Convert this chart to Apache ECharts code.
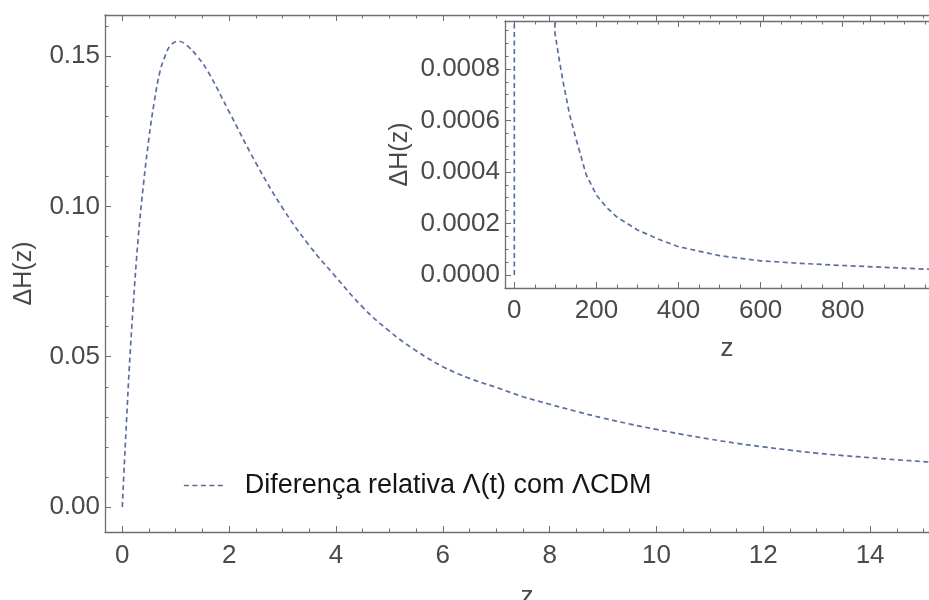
<!DOCTYPE html>
<html><head><meta charset="utf-8">
<script src="https://cdn.jsdelivr.net/npm/echarts@6/dist/echarts.min.js"></script>
<style>html,body{margin:0;padding:0;background:#fff}#c{width:929px;height:600px}</style>
</head><body><div id="c"></div>
<script>
// ---- data ----
const zMain = [0, 0.04, 0.08, 0.13, 0.2, 0.3, 0.4, 0.5, 0.6, 0.7, 0.8, 0.9, 1.05, 1.2, 1.4, 1.6, 2.0, 2.5, 3.0, 3.5, 4.0, 4.5, 5.0, 5.5, 6.0, 6.5, 7.0, 7.5, 8.0, 8.5, 9.0, 9.5, 10.0, 10.5, 11.0, 11.5, 12.0, 12.5, 13.0, 13.5, 14.0, 14.5, 15.0, 15.14];
const dhMain = [0, 0.015, 0.029, 0.046, 0.066, 0.09, 0.108, 0.123, 0.135, 0.1445, 0.150, 0.1535, 0.155, 0.1537, 0.150, 0.145, 0.1315, 0.1145, 0.0995, 0.087, 0.0765, 0.0665, 0.0585, 0.052, 0.0467, 0.0428, 0.0398, 0.0367, 0.0342, 0.0318, 0.0296, 0.0276, 0.0258, 0.0241, 0.0226, 0.0212, 0.0200, 0.0189, 0.0179, 0.0171, 0.0164, 0.0157, 0.0151, 0.0149];
const zTail = [99, 110, 120, 135, 150, 175, 200, 225, 250, 300, 350, 400, 500, 600, 700, 800, 900, 1000, 1015];
const dhTail = [0.00094, 0.00083, 0.00074, 0.00062, 0.00053, 0.00039, 0.00031, 0.000262, 0.000225, 0.000175, 0.00014, 0.00011, 0.000075, 0.000055, 0.000045, 0.000037, 0.00003, 0.000023, 0.000022];
const mainXTicks = [0, 2, 4, 6, 8, 10, 12, 14];
const mainYTicks = [0, 0.05, 0.10, 0.15];
const insetXTicks = [0, 200, 400, 600, 800];
const insetYTicks = [0, 0.0002, 0.0004, 0.0006, 0.0008];
const legendLabel = 'Diferença relativa Λ(t) com ΛCDM';
const yName = 'ΔH(z)';
const xName = 'z';

// ---- styles ----
const FONT = 'Liberation Sans, Arial, Helvetica, sans-serif';
const AX = '#6e6e6e';
const LBL = '#4a4a4a';
const LINE = '#5b6ea3';

function minors(lo, hi, step, majors) {
  const out = [];
  for (let v = lo; v <= hi + 1e-12; v += step) {
    const r = Math.round(v / step) * step;
    if (!majors.some(m => Math.abs(m - r) < step / 10)) out.push(+r.toPrecision(10));
  }
  return out;
}

const mainXR = [-0.324, 15.14], mainYR = [-0.00832, 0.1637];
const insXR = [-22.7, 1015], insYR = [-0.0000504, 0.000986];

function xAx(grid, range, pos, major, minor, opts) {
  const base = {
    type: 'value', gridIndex: grid, min: range[0], max: range[1], position: pos,
    splitLine: { show: false }
  };
  const a = Object.assign({}, base, {
    axisLine: { show: true, onZero: false, lineStyle: { color: AX, width: 1.3 } },
    axisTick: { show: true, inside: true, length: 6, customValues: major, lineStyle: { color: AX, width: 1 } },
    axisLabel: Object.assign({ show: false }, opts.label || {})
  }, opts.extra || {});
  const b = Object.assign({}, base, {
    axisLine: { show: false, onZero: false },
    axisTick: { show: true, inside: true, length: 3.5, customValues: minor, lineStyle: { color: AX, width: 1 } },
    axisLabel: { show: false }
  });
  return [a, b];
}

const lblX = (vals, margin) => ({ show: true, customValues: vals, margin: margin, fontSize: 26, fontFamily: FONT, color: LBL,
  formatter: v => String(Math.round(v)) });
const lblY = (vals, dec) => ({ show: true, customValues: vals, margin: 5, fontSize: 26, fontFamily: FONT, color: LBL,
  formatter: v => Number(v).toFixed(dec) });

const xAxes = [
  ...xAx(0, mainXR, 'bottom', mainXTicks, minors(0, 15, 0.5, mainXTicks), {
    label: lblX(mainXTicks, 11),
    extra: { name: xName, nameLocation: 'middle', nameGap: 52, nameTextStyle: { fontSize: 26, fontFamily: FONT, color: LBL, padding: [0, 0, 0, 18] } }
  }),
  ...xAx(0, mainXR, 'top', mainXTicks, minors(0, 15, 0.5, mainXTicks), {}),
  ...xAx(1, insXR, 'bottom', insetXTicks, minors(0, 1000, 50, insetXTicks), {
    label: lblX(insetXTicks, 10),
    extra: { name: xName, nameLocation: 'middle', nameGap: 48, nameTextStyle: { fontSize: 26, fontFamily: FONT, color: LBL, padding: [0, 0, 0, 18] } }
  }),
  ...xAx(1, insXR, 'top', insetXTicks, minors(0, 1000, 50, insetXTicks), {})
];

function yAx(grid, range, major, minor, label, extra) {
  const base = { type: 'value', gridIndex: grid, min: range[0], max: range[1], position: 'left', splitLine: { show: false } };
  return [
    Object.assign({}, base, {
      axisLine: { show: true, onZero: false, lineStyle: { color: AX, width: 1.3 } },
      axisTick: { show: true, inside: true, length: 6, customValues: major, lineStyle: { color: AX, width: 1 } },
      axisLabel: label
    }, extra),
    Object.assign({}, base, {
      axisLine: { show: false, onZero: false },
      axisTick: { show: true, inside: true, length: 3.5, customValues: minor, lineStyle: { color: AX, width: 1 } },
      axisLabel: { show: false }
    })
  ];
}

const yAxes = [
  ...yAx(0, mainYR, mainYTicks, minors(0, 0.16, 0.01, mainYTicks), lblY(mainYTicks, 2),
    { name: yName, nameLocation: 'middle', nameGap: 68, nameRotate: 90, nameTextStyle: { fontSize: 25, fontFamily: FONT, color: LBL } }),
  ...yAx(1, insYR, insetYTicks, minors(0, 0.00095, 0.00005, insetYTicks), lblY(insetYTicks, 4),
    { name: yName, nameLocation: 'middle', nameGap: 92, nameRotate: 90, nameTextStyle: { fontSize: 25, fontFamily: FONT, color: LBL } })
];

const mainData = zMain.map((z, i) => [z, dhMain[i]]);
const insetData = mainData.concat(zTail.map((z, i) => [z, dhTail[i]]));

const chart = echarts.init(document.getElementById('c'), null, { renderer: 'canvas' });
chart.setOption({
  animation: false,
  backgroundColor: '#fff',
  textStyle: { fontFamily: FONT },
  grid: [
    { left: 105, top: 15, right: -2, bottom: 68, containLabel: false, outerBoundsMode: 'none' },
    { left: 505, top: 21, right: -2, height: 267, containLabel: false, outerBoundsMode: 'none',
      show: true, backgroundColor: '#fff', borderWidth: 0, z: 3 }
  ],
  legend: {
    left: 183, top: 472, padding: 0, itemWidth: 42, itemHeight: 14,
    data: [legendLabel],
    itemStyle: { color: 'rgba(0,0,0,0)', borderWidth: 0, borderColor: 'rgba(0,0,0,0)' },
    lineStyle: { color: LINE, width: 1.7, type: [5, 3.5] },
    textStyle: { fontSize: 27, fontFamily: FONT, color: '#151515', padding: [0, 0, 0, 14] }
  },
  xAxis: xAxes.map((a, i) => Object.assign(a, { z: i >= 4 ? 4 : 1 })),
  yAxis: yAxes.map((a, i) => Object.assign(a, { z: i >= 2 ? 4 : 1 })),
  series: [
    { name: legendLabel, type: 'line', xAxisIndex: 0, yAxisIndex: 0, data: mainData, showSymbol: false, symbol: 'none',
      smooth: 0.4, clip: true,
      lineStyle: { color: LINE, width: 1.7, type: [5, 3.5] }, itemStyle: { color: LINE }, z: 2 },
    { name: 'inset', type: 'line', xAxisIndex: 4, yAxisIndex: 2, data: insetData, showSymbol: false, symbol: 'none',
      smooth: false, clip: true,
      lineStyle: { color: LINE, width: 1.7, type: [5, 3.5] }, itemStyle: { color: LINE }, z: 5 }
  ]
});
</script>
</body></html>
